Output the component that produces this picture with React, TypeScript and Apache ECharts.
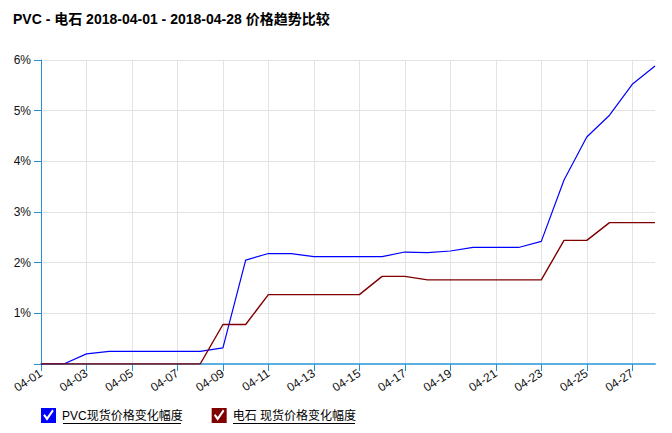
import React, { useEffect, useRef } from "react";
import * as echarts from "echarts";

const titleText = "PVC - 电石 2018-04-01 - 2018-04-28 价格趋势比较";
const seriesNames = ["PVC现货价格变化幅度", "电石 现货价格变化幅度"];
const dates = [
  "04-01", "04-02", "04-03", "04-04", "04-05", "04-06", "04-07", "04-08", "04-09", "04-10",
  "04-11", "04-12", "04-13", "04-14", "04-15", "04-16", "04-17", "04-18", "04-19", "04-20",
  "04-21", "04-22", "04-23", "04-24", "04-25", "04-26", "04-27", "04-28",
];
const pvcValues = [
  0, 0, 0.2, 0.25, 0.25, 0.25, 0.25, 0.25, 0.32, 2.05,
  2.18, 2.18, 2.12, 2.12, 2.12, 2.12, 2.21, 2.2, 2.23, 2.3,
  2.3, 2.3, 2.42, 3.63, 4.48, 4.91, 5.52, 5.88,
];
const carbideValues = [
  0, 0, 0, 0, 0, 0, 0, 0, 0.78, 0.78,
  1.37, 1.37, 1.37, 1.37, 1.37, 1.73, 1.73, 1.66, 1.66, 1.66,
  1.66, 1.66, 1.66, 2.44, 2.44, 2.79, 2.79, 2.79,
];
const colors = ["#0000ff", "#800000"];

const FONT = 'Arial, "Liberation Sans", "Noto Sans CJK SC", sans-serif';
const checkIcon =
  "path://M0,0 L20,0 L20,20 L0,20 Z M3,10 L8,17 L17,4 L15,2 L8,12 L5,8 Z";

export default function App() {
  const ref = useRef<HTMLDivElement>(null);
  useEffect(() => {
    if (!ref.current) return;
    const chart = echarts.init(ref.current, undefined, { renderer: "svg" });
    chart.setOption({
      animation: false,
      backgroundColor: "#ffffff",
      title: {
        text: titleText,
        left: 8,
        top: 7,
        textStyle: { fontFamily: FONT, fontSize: 14, fontWeight: "bold", color: "#000" },
      },
      legend: {
        left: 41,
        top: 408,
        padding: 0,
        itemWidth: 15,
        itemHeight: 15,
        itemGap: 29,
        icon: checkIcon,
        textStyle: { fontFamily: FONT, fontSize: 12, color: "#000", padding: [0, 0, 0, 1] },
        data: seriesNames.map((n, i) => ({ name: n, itemStyle: { color: colors[i] } })),
      },
      graphic: [
        { type: "line", shape: { x1: 63, y1: 423.5, x2: 181, y2: 423.5 }, style: { stroke: "#000", lineWidth: 1 } },
        { type: "line", shape: { x1: 233, y1: 423.5, x2: 355, y2: 423.5 }, style: { stroke: "#000", lineWidth: 1 } },
      ],
      grid: { left: 41, right: 17, top: 60, bottom: 69 },
      xAxis: {
        type: "category",
        data: dates,
        boundaryGap: false,
        axisLine: { lineStyle: { color: "#5aaee0", width: 2 } },
        axisTick: { interval: 1, length: 7, lineStyle: { color: "#2a8fd0" } },
        axisLabel: {
          interval: 1,
          rotate: 33,
          fontFamily: FONT,
          fontSize: 12,
          color: "#111",
          margin: 8,
        },
        splitLine: { show: true, interval: 1, lineStyle: { color: "#e3e3e3" } },
      },
      yAxis: {
        type: "value",
        min: 0,
        max: 6,
        interval: 1,
        axisLine: { show: true, lineStyle: { color: "#2a8fd0" } },
        axisTick: { show: true, length: 7, lineStyle: { color: "#2a8fd0" } },
        axisLabel: {
          fontFamily: FONT,
          fontSize: 12,
          color: "#111",
          margin: 10,
          formatter: (v: number) => (v === 0 ? "" : v + "%"),
        },
        splitLine: { lineStyle: { color: "#e3e3e3" } },
      },
      series: [
        {
          name: seriesNames[0],
          type: "line",
          data: pvcValues,
          showSymbol: false,
          symbol: "none",
          lineStyle: { color: colors[0], width: 1.2 },
          itemStyle: { color: colors[0] },
        },
        {
          name: seriesNames[1],
          type: "line",
          data: carbideValues,
          showSymbol: false,
          symbol: "none",
          lineStyle: { color: colors[1], width: 1.4 },
          itemStyle: { color: colors[1] },
        },
      ],
    });
    return () => chart.dispose();
  }, []);
  return (
    <div
      ref={ref}
      style={{ position: "fixed", left: 0, top: 0, width: 672, height: 433 }}
    />
  );
}
